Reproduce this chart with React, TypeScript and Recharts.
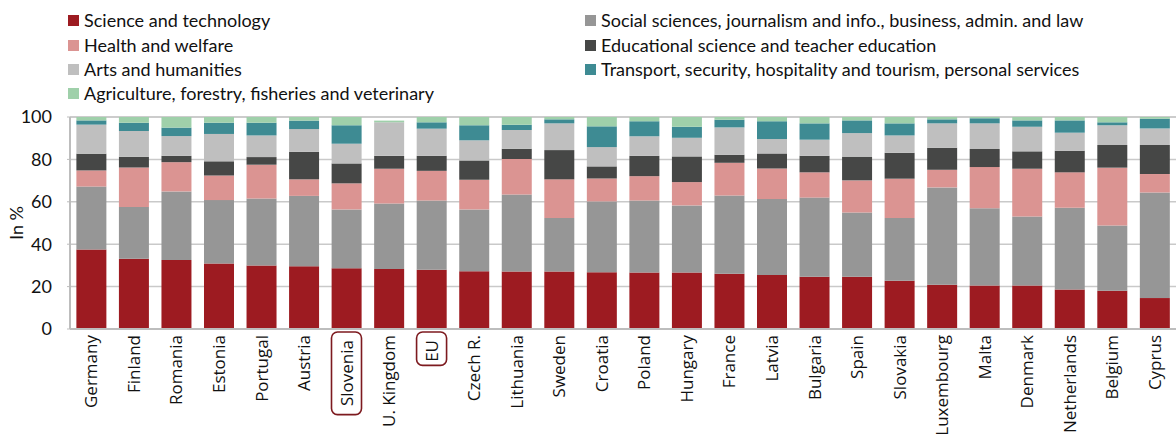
import React from 'react';
import { BarChart, Bar, XAxis, YAxis, CartesianGrid } from 'recharts';

const countries = [
  'Germany', 'Finland', 'Romania', 'Estonia', 'Portugal', 'Austria', 'Slovenia', 'U. Kingdom', 'EU',
  'Czech R.', 'Lithuania', 'Sweden', 'Croatia', 'Poland', 'Hungary', 'France', 'Latvia', 'Bulgaria',
  'Spain', 'Slovakia', 'Luxembourg', 'Malta', 'Denmark', 'Netherlands', 'Belgium', 'Cyprus',
];

const science = [37.5, 33.1, 32.6, 30.9, 29.9, 29.6, 28.7, 28.3, 28.0, 27.2, 27.1, 27.1, 26.8, 26.6, 26.6, 26.1, 25.5, 24.7, 24.7, 22.8, 20.9, 20.5, 20.5, 18.6, 18.0, 14.6];
const social = [29.7, 24.5, 32.3, 29.9, 31.7, 33.2, 27.7, 30.9, 32.6, 29.2, 36.4, 25.2, 33.4, 34.0, 31.7, 36.9, 35.8, 37.3, 30.3, 29.5, 45.9, 36.4, 32.6, 38.6, 30.8, 49.8];
const health = [7.6, 18.6, 13.8, 11.6, 15.9, 7.8, 12.3, 16.4, 14.0, 14.0, 16.7, 18.3, 10.8, 11.5, 11.0, 15.4, 14.4, 11.9, 15.1, 18.6, 8.3, 19.5, 22.5, 16.7, 27.3, 8.7];
const education = [7.9, 5.1, 3.0, 6.7, 3.6, 13.0, 9.4, 6.1, 7.1, 9.1, 4.8, 13.8, 5.7, 9.6, 12.1, 3.8, 7.1, 7.8, 11.2, 12.2, 10.4, 8.5, 8.2, 10.2, 10.7, 13.7];
const arts = [13.7, 12.1, 9.3, 12.9, 10.2, 10.7, 9.3, 15.8, 12.8, 9.5, 8.9, 12.6, 9.1, 9.2, 8.8, 12.9, 6.8, 7.6, 11.1, 8.2, 11.5, 12.1, 11.6, 8.5, 9.3, 7.8];
const transport = [2.0, 3.9, 4.0, 5.3, 6.0, 4.0, 8.7, 0, 3.0, 7.1, 2.5, 1.9, 9.8, 7.1, 5.2, 3.6, 8.4, 7.7, 6.0, 5.7, 1.9, 2.4, 3.0, 5.8, 1.4, 4.6];
const agriculture = [1.6, 2.7, 5.0, 2.7, 2.7, 1.7, 3.9, 0.8, 2.5, 3.9, 3.6, 1.1, 4.4, 2.0, 4.6, 1.3, 2.0, 3.0, 1.6, 3.0, 1.1, 0.6, 1.6, 1.6, 2.5, 0.8];

const highlighted = ['Slovenia', 'EU'];
const yTicks = [0, 20, 40, 60, 80, 100];

const series = [
  { key: 'science', name: 'Science and technology', color: '#9d1b21', values: science },
  { key: 'social', name: 'Social sciences, journalism and info., business, admin. and law', color: '#969696', values: social },
  { key: 'health', name: 'Health and welfare', color: '#db9492', values: health },
  { key: 'education', name: 'Educational science and teacher education', color: '#464746', values: education },
  { key: 'arts', name: 'Arts and humanities', color: '#bfbfbf', values: arts },
  { key: 'transport', name: 'Transport, security, hospitality and tourism, personal services', color: '#3e8b93', values: transport },
  { key: 'agriculture', name: 'Agriculture, forestry, fisheries and veterinary', color: '#9fd0aa', values: agriculture },
];

// legend reading order: left column then right column
const legendLeft = ['science', 'health', 'arts', 'agriculture'];
const legendRight = ['social', 'education', 'transport'];

const data = countries.map((country, i) => {
  const row: Record<string, string | number> = { country };
  series.forEach((s) => { row[s.key] = s.values[i]; });
  return row;
});

const labelFont = "'Open Sans', sans-serif";
const legendFont = "Lato, sans-serif";

const CountryTick = (props: any) => {
  const { x, payload } = props;
  const label: string = payload.value;
  const boxed = highlighted.includes(label);
  const top = boxed ? 340 : 335;
  const w = label.length * 8.2;
  return (
    <g>
      {boxed && (
        <rect x={x - 15} y={332} width={30} height={w + 17} rx={6} ry={6}
          fill="none" stroke="#7d1a1f" strokeWidth={1.6} />
      )}
      <text x={x} y={top} transform={`rotate(-90 ${x} ${top})`}
        textAnchor="end" dy="0.36em" fontFamily={labelFont} fontSize={17} fill="#111">
        {label}
      </text>
    </g>
  );
};

const LegendItem = ({ k, x, y }: { k: string; x: number; y: number }) => {
  const s = series.find((d) => d.key === k)!;
  return (
    <div style={{ position: 'absolute', left: x, top: y, display: 'flex', alignItems: 'center', whiteSpace: 'nowrap' }}>
      <span style={{ width: 11, height: 11, background: s.color, display: 'inline-block', marginRight: 5 }} />
      <span style={{ fontFamily: legendFont, fontSize: 18, color: '#111', lineHeight: '20px' }}>{s.name}</span>
    </div>
  );
};

const rowsY = [10, 35, 59, 83];

export default function App() {
  return (
    <div style={{ position: 'absolute', left: 0, top: 0, width: 1176, height: 434, background: '#fff', overflow: 'hidden' }}>
      {legendLeft.map((k, i) => <LegendItem key={k} k={k} x={68} y={rowsY[i]} />)}
      {legendRight.map((k, i) => <LegendItem key={k} k={k} x={585} y={rowsY[i]} />)}
      <BarChart width={1176} height={434} data={data} barCategoryGap="15%"
        margin={{ top: 117, right: 0, bottom: 0, left: 0 }} style={{ position: 'absolute', left: 0, top: 0 }}>
        <CartesianGrid vertical={false} stroke="#c9c9c9" strokeWidth={1.5} />
        <YAxis domain={[0, 100]} ticks={yTicks} width={70} interval={0}
          axisLine={{ stroke: '#bdbdbd', strokeWidth: 2 }} tickLine={{ stroke: '#bdbdbd' }} tickSize={3} tickMargin={15}
          tick={{ fontFamily: legendFont, fontSize: 18, fill: '#111' }}
          label={{ content: () => (
            <text x={17} y={223} transform="rotate(-90 17 223)" textAnchor="middle" dy="0.35em"
              fontFamily={legendFont} fontSize={18} fill="#111">In %</text>
          ) }} />
        <XAxis dataKey="country" interval={0} tickLine={false} height={105}
          axisLine={{ stroke: '#bdbdbd', strokeWidth: 2 }} tick={<CountryTick />} />
        {series.map((s) => (
          <Bar key={s.key} dataKey={s.key} name={s.name} stackId="a" fill={s.color} isAnimationActive={false} />
        ))}
      </BarChart>
    </div>
  );
}
